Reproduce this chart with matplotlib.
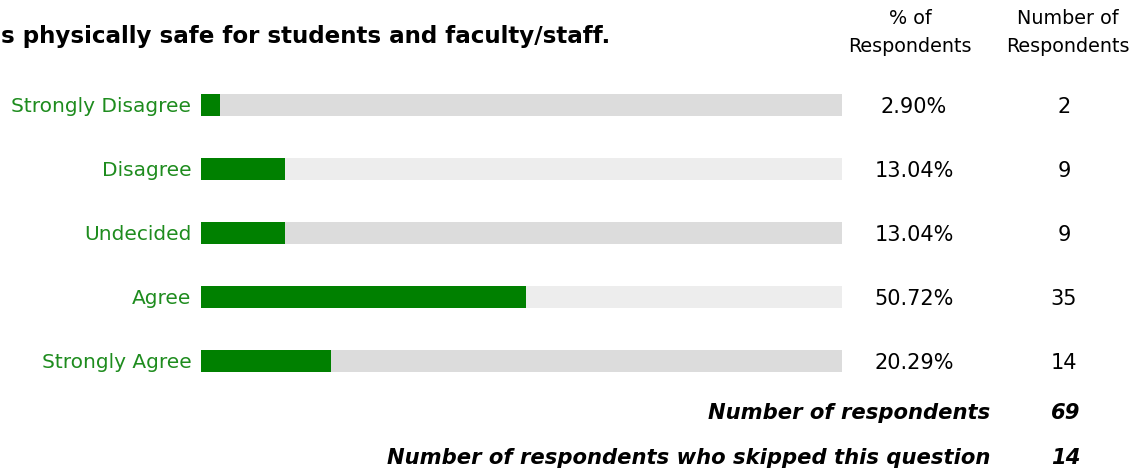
import matplotlib
matplotlib.use("Agg")
import matplotlib.pyplot as plt
from matplotlib.transforms import blended_transform_factory

categories = ["Strongly Disagree", "Disagree", "Undecided", "Agree", "Strongly Agree"]
percents = [2.90, 13.04, 13.04, 50.72, 20.29]
counts = [2, 9, 9, 35, 14]
total_respondents = 69
skipped = 14
title = "s physically safe for students and faculty/staff."

W, H = 1148, 472
fig = plt.figure(figsize=(W / 100, H / 100), dpi=100)
fig.patch.set_facecolor("white")

# bar area in pixel units
x0, x1 = 201, 842
y_top, y_bot = 73, 393
ax = fig.add_axes([x0 / W, 1 - y_bot / H, (x1 - x0) / W, (y_bot - y_top) / H])
ax.set_xlim(0, 100)
ax.set_ylim(len(categories) - 0.5, -0.5)
for s in ax.spines.values():
    s.set_visible(False)
ax.set_xticks([])

ypos = list(range(len(categories)))
bg = ["#dcdcdc" if i % 2 == 0 else "#ededed" for i in ypos]
bh = 22 / 64
ax.barh(ypos, [100] * len(ypos), height=bh, color=bg, linewidth=0)
ax.barh(ypos, percents, height=bh, color="#008000", linewidth=0)

ax.set_yticks(ypos)
ax.set_yticklabels(categories, color="#1e8c1e", fontsize=14.5)
ax.tick_params(axis="y", length=0, pad=7)
for lab in ax.get_yticklabels():
    lab.set_verticalalignment("center_baseline")

tr = blended_transform_factory(fig.transFigure, ax.transData)
for i, (p, c) in enumerate(zip(percents, counts)):
    ax.text(914 / W, i, f"{p:.2f}%", transform=tr, ha="center",
            va="center_baseline", fontsize=15, color="black")
    ax.text(1064 / W, i, f"{c}", transform=tr, ha="center",
            va="center_baseline", fontsize=15, color="black")

def fx(px):
    return px / W

def fy(py):
    return 1 - py / H

fig.text(fx(1), fy(36), title, ha="left", va="center", fontsize=16.55,
         fontweight="bold", color="black")
fig.text(fx(910), fy(19), "% of", ha="center", va="center", fontsize=13.8)
fig.text(fx(910), fy(46), "Respondents", ha="center", va="center", fontsize=13.8)
fig.text(fx(1068), fy(19), "Number of", ha="center", va="center", fontsize=13.8)
fig.text(fx(1068), fy(46), "Respondents", ha="center", va="center", fontsize=13.8)

fig.text(fx(990), fy(413), "Number of respondents", ha="right", va="center",
         fontsize=15.2, fontweight="bold", fontstyle="italic")
fig.text(fx(1066), fy(413), f"{total_respondents}", ha="center", va="center",
         fontsize=15.2, fontweight="bold", fontstyle="italic")
fig.text(fx(990), fy(458), "Number of respondents who skipped this question",
         ha="right", va="center", fontsize=15.2, fontweight="bold", fontstyle="italic")
fig.text(fx(1066), fy(458), f"{skipped}", ha="center", va="center",
         fontsize=15.2, fontweight="bold", fontstyle="italic")

fig.savefig("out.png", dpi=100, facecolor="white")
